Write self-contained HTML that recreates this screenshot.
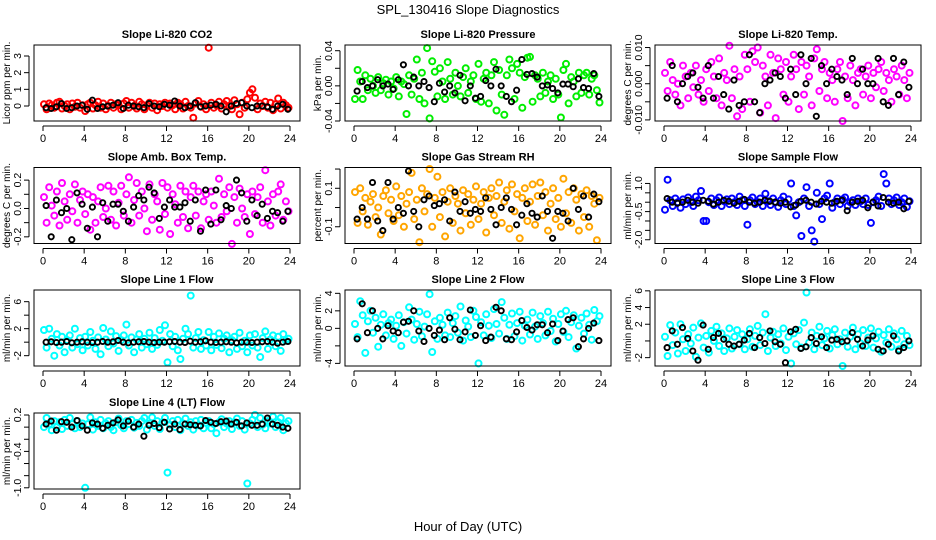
<!DOCTYPE html>
<html><head><meta charset="utf-8"><style>
body{margin:0;background:#fff}
svg{display:block;font-family:"Liberation Sans",sans-serif}
</style></head><body>
<svg id="chart" width="936" height="540" viewBox="0 0 936 540">
<text x="468" y="14" text-anchor="middle" font-size="13">SPL_130416  Slope Diagnostics</text>
<text x="468" y="531" text-anchor="middle" font-size="13">Hour of Day (UTC)</text>
</svg>
<script>
const hours=[0.1,0.35,0.6,0.85,1.1,1.35,1.6,1.85,2.1,2.35,2.6,2.85,3.1,3.35,3.6,3.85,4.1,4.35,4.6,4.85,5.1,5.35,5.6,5.85,6.1,6.35,6.6,6.85,7.1,7.35,7.6,7.85,8.1,8.35,8.6,8.85,9.1,9.35,9.6,9.85,10.1,10.35,10.6,10.85,11.1,11.35,11.6,11.85,12.1,12.35,12.6,12.85,13.1,13.35,13.6,13.85,14.1,14.35,14.6,14.85,15.1,15.35,15.6,15.85,16.1,16.35,16.6,16.85,17.1,17.35,17.6,17.85,18.1,18.35,18.6,18.85,19.1,19.35,19.6,19.85,20.1,20.35,20.6,20.85,21.1,21.35,21.6,21.85,22.1,22.35,22.6,22.85,23.1,23.35,23.6,23.85];
const blackHours=[0.3,0.8,1.3,1.8,2.3,2.8,3.3,3.8,4.3,4.8,5.3,5.8,6.3,6.8,7.3,7.8,8.3,8.8,9.3,9.8,10.3,10.8,11.3,11.8,12.3,12.8,13.3,13.8,14.3,14.8,15.3,15.8,16.3,16.8,17.3,17.8,18.3,18.8,19.3,19.8,20.3,20.8,21.3,21.8,22.3,22.8,23.3,23.8];
const xTicks=[0,4,8,12,16,20,24];

const co2=[0.1,-0.2,0.15,0.05,-0.1,0.2,0.25,-0.15,0.0,0.1,-0.2,0.15,-0.05,0.2,-0.1,0.05,-0.3,0.1,0.2,-0.15,0.05,0.25,-0.1,0.15,-0.2,0.0,0.2,-0.1,0.1,0.05,-0.2,0.15,0.3,-0.1,0.2,0.0,-0.15,0.25,0.1,-0.2,0.05,0.2,-0.1,0.15,-0.25,0.1,0.0,0.2,-0.1,0.15,0.05,-0.2,0.2,0.1,-0.15,0.25,0.0,-0.1,-0.7,0.15,0.3,-0.05,0.1,-0.2,3.5,0.2,-0.1,0.05,0.25,-0.15,0.1,0.3,0.0,-0.2,0.35,0.1,-0.5,0.2,-0.1,0.4,0.8,1.0,0.5,-0.2,0.15,0.0,0.25,-0.1,0.2,-0.25,0.1,0.45,-0.15,0.2,0.05,-0.1];
const co2Black=[-0.1,-0.15,-0.05,0.15,-0.15,-0.1,0.0,0.05,-0.2,0.35,-0.15,-0.05,0.0,0.05,0.2,-0.15,0.05,0.0,-0.05,-0.1,0.15,0.0,-0.05,0.1,0.05,0.3,0.0,-0.1,0.0,0.2,-0.05,0.0,0.05,0.1,0.0,-0.35,0.0,0.15,0.2,0.0,-0.1,0.0,0.0,-0.05,-0.2,0.0,0.1,-0.2];
const press=[-0.015,0.018,0.005,-0.015,0.012,-0.005,0.008,0.0,-0.008,0.01,-0.005,0.003,0.007,-0.01,0.005,-0.003,0.01,-0.012,0.005,0.002,-0.032,0.012,-0.01,0.008,0.03,-0.015,0.015,-0.02,0.043,-0.037,0.028,0.016,-0.012,0.02,0.005,-0.015,0.027,0.008,-0.01,0.015,0.0,-0.012,0.01,0.02,-0.008,0.005,0.012,-0.015,0.025,-0.018,0.008,0.015,-0.02,0.012,0.027,-0.028,0.018,-0.01,-0.033,0.012,0.03,0.02,-0.015,0.025,0.015,-0.025,0.01,0.032,0.033,-0.018,0.012,0.008,-0.012,0.015,-0.008,0.005,0.012,-0.015,0.008,-0.01,-0.036,0.018,0.025,-0.02,0.01,0.005,-0.012,0.015,-0.008,0.012,0.015,-0.01,0.008,0.012,-0.005,-0.019];
const pressBlack=[-0.006,0.005,-0.002,0.0,0.007,0.0,0.002,-0.004,0.007,0.024,0.0,0.01,0.0,0.005,-0.002,-0.018,0.003,-0.007,0.0,-0.008,0.012,-0.017,0.0,-0.014,-0.012,0.006,0.0,0.019,0.0,-0.012,-0.018,-0.005,0.03,0.013,0.014,0.01,0.0,0.001,-0.003,-0.008,0.002,0.002,-0.001,0.008,-0.002,-0.003,0.014,-0.012];
const temp=[0.003,-0.002,0.006,0.001,-0.003,0.0,-0.006,0.005,0.002,-0.004,0.003,-0.001,0.005,-0.003,0.001,-0.005,0.004,-0.002,0.006,0.002,-0.004,0.007,-0.006,0.003,0.001,0.0105,-0.004,0.004,-0.009,0.002,-0.007,0.008,0.004,-0.005,0.009,0.006,0.010,-0.008,0.005,0.002,-0.006,0.008,0.003,-0.0095,0.007,0.004,-0.003,0.006,-0.005,0.002,0.008,0.004,-0.007,0.006,-0.003,0.005,0.002,-0.006,0.007,0.0095,-0.002,0.004,0.006,-0.004,0.003,0.001,-0.005,0.004,0.006,-0.0103,0.002,-0.004,0.005,0.001,-0.006,0.003,0.004,-0.003,0.002,0.005,-0.004,0.003,-0.001,0.004,0.006,-0.002,0.003,0.001,-0.005,0.004,0.002,-0.003,0.005,0.001,-0.004,0.003];
const tempBlack=[-0.004,0.005,-0.005,0.0,0.002,0.003,-0.001,-0.004,0.005,-0.004,0.002,-0.003,-0.007,0.001,-0.006,-0.005,0.008,-0.005,-0.008,0.0,0.001,0.003,0.002,-0.004,0.004,-0.003,0.008,0.0,0.007,-0.009,0.005,0.0,0.004,0.002,0.001,-0.003,0.007,0.0,0.004,0.0,0.0,0.007,-0.005,-0.006,0.007,-0.003,0.006,-0.001];
const amb=[0.08,-0.1,0.15,0.02,-0.05,0.12,-0.12,0.18,0.05,-0.08,0.1,-0.02,0.17,-0.1,0.06,0.12,-0.04,0.1,-0.15,0.08,-0.1,0.05,0.15,-0.06,0.0,0.16,-0.08,0.12,-0.12,0.04,0.16,-0.05,0.1,0.22,-0.1,0.06,0.18,-0.05,0.12,0.0,-0.16,0.17,-0.08,0.1,0.05,-0.15,0.18,-0.04,0.15,-0.18,0.1,0.03,-0.1,0.16,-0.06,0.12,-0.14,0.08,0.16,-0.05,0.12,-0.14,0.05,0.1,-0.08,0.12,0.02,-0.1,0.21,-0.06,0.1,-0.02,0.15,-0.25,0.08,-0.1,0.14,0.0,-0.06,0.1,-0.18,0.12,-0.04,0.08,0.15,-0.1,0.27,0.05,-0.12,0.1,-0.05,0.12,0.17,-0.08,0.05,-0.02];
const ambBlack=[0.02,-0.2,0.06,-0.03,0.0,-0.22,0.11,0.03,-0.14,0.01,-0.2,0.04,-0.09,0.03,0.03,-0.02,-0.09,0.01,0.09,0.06,0.15,0.11,-0.07,0.01,0.06,0.01,0.01,0.04,-0.09,0.06,-0.16,0.13,-0.11,0.13,-0.08,0.02,0.0,0.2,0.11,-0.09,0.06,-0.05,0.03,-0.07,-0.02,-0.03,-0.09,-0.02];
const rh=[0.08,-0.08,0.1,-0.02,0.05,-0.09,0.03,0.07,-0.05,0.0,-0.14,0.06,0.09,-0.03,0.04,-0.07,0.11,-0.04,0.06,-0.1,0.02,0.08,0.18,-0.06,0.04,-0.18,0.1,-0.02,0.07,0.2,-0.1,0.05,0.16,-0.05,0.08,-0.15,0.03,0.1,-0.08,0.06,0.02,-0.12,0.09,-0.03,0.07,-0.09,0.04,0.11,-0.06,0.02,0.08,-0.13,0.05,0.1,-0.04,0.06,0.13,-0.08,0.03,0.09,-0.11,0.12,-0.02,0.07,-0.16,0.05,0.1,-0.07,0.03,0.12,-0.09,0.06,0.13,-0.04,0.08,-0.12,0.02,0.1,-0.06,0.05,-0.1,0.15,-0.03,0.08,-0.08,0.1,0.04,-0.12,0.07,-0.05,0.09,-0.1,0.06,0.02,-0.17,0.05];
const rhBlack=[-0.06,0.0,-0.06,0.13,-0.07,-0.12,0.13,-0.06,0.0,-0.03,0.19,-0.02,-0.1,0.04,0.06,0.01,0.02,0.04,-0.07,0.08,-0.02,0.03,-0.03,-0.01,-0.02,0.05,-0.01,-0.09,0.0,0.05,-0.01,-0.09,-0.04,0.02,-0.03,-0.05,0.06,-0.02,-0.16,-0.02,-0.03,-0.07,0.1,-0.01,0.06,-0.05,0.07,0.03];
const sample=[-0.4,1.2,0.1,-0.2,0.2,0.0,-0.3,0.15,-0.1,0.25,0.0,-0.2,0.3,0.1,0.6,-1.0,-1.0,0.0,0.2,-0.15,0.1,0.25,-0.2,0.05,0.15,-0.1,0.2,0.0,-0.15,0.3,0.1,-0.2,-1.2,0.1,0.25,-0.1,0.0,0.2,-0.2,0.45,0.05,-0.15,0.2,0.0,-0.25,0.1,0.3,-0.1,0.15,1.0,-0.2,-0.7,0.0,-1.8,0.2,0.8,-0.2,-1.5,-2.1,0.5,-0.1,-0.9,0.2,0.35,1.0,-0.3,0.0,0.2,-0.1,0.15,0.25,-0.2,0.0,0.1,-0.15,0.2,0.05,-0.1,0.2,-0.15,-1.1,0.0,0.1,0.3,-0.2,1.5,1.0,0.2,-0.1,0.1,0.25,-0.15,0.0,0.2,-0.25,0.05];
const sampleBlack=[0.2,0.0,-0.05,0.0,0.1,0.0,-0.05,0.1,0.05,-0.1,0.0,0.1,0.05,-0.05,0.05,0.15,0.0,-0.05,0.0,0.1,0.05,0.0,-0.05,0.0,-0.25,-0.15,0.05,0.1,0.0,-0.1,0.05,0.0,-0.05,0.05,0.1,-0.45,0.0,0.05,0.1,-0.3,0.0,-0.2,0.25,0.0,-0.05,0.0,-0.35,0.05];
const line1=[1.8,-0.8,2.0,0.5,-2.0,1.2,-0.5,0.8,-1.5,0.3,1.0,-0.8,2.0,-0.3,0.6,-1.2,0.8,-0.5,1.5,0.2,-1.0,0.7,-1.8,2.1,0.4,-0.6,1.6,-0.2,0.9,-1.3,0.3,1.0,2.6,-0.5,0.7,-1.5,0.4,1.2,-0.8,0.5,-0.3,1.4,-1.0,0.6,-0.4,1.8,0.2,2.5,-3.0,1.2,-0.6,0.8,-1.2,-2.5,0.5,2.0,1.2,6.9,-0.8,0.6,1.5,-1.0,0.3,-0.5,1.5,-1.2,0.8,-0.4,1.3,-0.9,0.5,1.0,-1.5,0.3,0.8,-1.0,1.4,-0.6,0.2,-1.5,1.0,-0.5,1.2,-0.8,-2.2,0.6,1.6,-1.0,0.4,1.0,-0.6,0.8,-1.3,1.2,0.2,0.5];
const line1Black=[0.0,0.05,-0.05,0.0,0.1,-0.1,0.0,0.05,0.0,-0.05,0.0,0.1,0.0,0.05,0.25,0.0,-0.1,0.0,0.05,0.1,0.0,-0.05,0.0,0.0,0.05,0.1,0.0,-0.05,0.15,0.0,0.05,0.2,0.0,-0.05,0.0,0.05,0.0,-0.1,0.0,0.0,-0.05,0.0,0.05,0.1,0.0,-0.15,0.0,0.1];
const line2=[0.5,-1.0,3.1,1.5,-2.8,0.8,2.0,-0.5,1.2,-2.1,0.4,1.6,-0.8,0.6,1.0,-1.2,0.3,1.5,-2.0,0.7,-0.6,2.4,1.0,-1.3,0.5,1.9,-0.9,0.2,1.6,3.9,-2.7,0.8,-1.2,1.2,0.4,-0.8,1.8,-1.0,0.6,1.4,-0.5,2.5,-1.4,0.9,0.2,-1.0,2.0,1.3,-4.0,0.7,-0.8,1.6,0.3,-1.1,2.2,0.5,-0.6,3.0,1.2,-1.2,0.4,1.7,-0.9,0.6,1.9,-1.4,0.3,1.0,-0.7,1.8,0.2,-1.2,1.4,0.6,-0.8,1.9,-0.3,1.1,-1.5,0.5,1.6,-0.4,2.0,-1.0,0.7,1.5,-2.3,0.3,1.2,-0.6,1.7,0.4,-1.3,2.1,0.8,1.4];
const line2Black=[-1.2,2.8,-0.5,2.0,0.0,-1.2,0.3,-0.3,-0.5,0.7,0.8,2.0,-0.3,-1.5,0.0,-0.8,-0.2,-1.3,1.2,-0.1,-1.3,-0.4,2.1,-0.8,0.3,-1.4,-1.0,2.4,2.0,-1.2,-1.3,-0.4,0.9,0.1,-0.2,0.4,0.4,-0.5,0.5,-1.4,-0.3,1.0,1.2,-2.1,-1.2,0.0,0.6,-1.4];
const line3=[0.5,-1.8,1.9,-0.5,1.0,-1.5,2.0,0.2,-1.2,0.8,-0.3,1.6,-1.9,0.4,2.1,-0.8,0.6,-1.4,1.2,0.0,1.7,-0.6,0.9,-1.2,0.3,1.5,-0.9,0.5,1.3,-0.4,0.8,-1.0,0.2,1.4,-0.7,0.6,1.8,-0.5,1.0,3.2,-1.2,0.4,1.1,-0.6,0.8,-0.3,1.5,-1.1,0.5,-2.7,0.9,-0.4,1.3,-0.8,2.2,5.8,-0.2,1.0,-1.0,0.6,1.7,-0.5,0.3,1.2,-0.9,0.7,1.4,-0.4,0.2,-3.0,1.0,-0.7,0.5,1.6,-1.0,0.8,-0.3,1.3,-0.6,0.4,1.5,-0.8,0.3,1.1,-1.3,0.7,-0.2,1.4,-0.7,0.9,0.2,-1.0,1.2,-0.4,0.6,-0.5];
const line3Black=[-0.8,1.2,-0.4,1.6,0.3,-1.2,-2.3,1.9,-1.0,0.4,0.9,0.2,-0.4,-0.6,-0.4,0.1,0.9,-0.8,0.4,-0.3,1.2,-0.1,-0.4,-2.6,1.1,1.4,-0.9,-0.7,0.4,-0.3,0.5,-0.8,0.1,0.2,-0.1,0.0,1.0,0.2,-0.6,0.1,0.6,-1.0,-1.2,-0.4,0.6,-1.2,-0.8,0.0];
const line4=[0.0,0.15,0.05,-0.05,0.1,0.0,0.08,-0.03,0.12,0.02,0.15,0.05,-0.02,0.1,0.0,0.06,-1.0,0.05,0.16,-0.04,0.08,0.02,0.12,-0.02,0.06,0.1,0.0,-0.05,0.08,0.14,0.03,-0.02,0.1,0.05,0.12,-0.01,0.07,0.02,0.1,0.15,-0.04,0.06,0.16,0.02,0.1,-0.03,0.08,0.15,-0.75,0.04,0.1,0.0,0.12,-0.05,0.06,0.14,0.02,0.08,-0.04,0.1,0.03,0.12,-0.02,0.07,0.1,-0.02,0.05,-0.1,0.08,0.13,0.0,0.06,0.1,-0.03,0.08,0.14,0.02,0.1,-0.04,-0.93,0.06,0.12,0.2,0.0,0.15,0.04,-0.02,0.1,0.06,0.17,0.0,0.08,0.15,-0.05,0.06,0.1];
const line4Black=[0.05,0.1,-0.05,0.09,0.08,0.0,0.11,0.02,-0.05,0.07,0.05,-0.02,0.03,0.07,0.12,0.02,0.1,0.0,0.05,-0.15,0.03,0.06,-0.01,0.08,-0.03,0.05,-0.04,0.05,0.04,0.03,0.02,0.11,0.08,0.06,0.09,0.1,0.05,0.08,0.02,0.07,0.03,0.03,0.05,0.15,0.05,0.03,0.0,-0.02];

const panels=[
 {id:'co2',title:'Slope Li-820 CO2',yl:'Licor ppm per min.',min:-0.9,max:3.66,ticks:[0,1,2,3],labels:['0','1','2','3'],color:'#ff0000',v:co2,b:co2Black},
 {id:'pressure',title:'Slope Li-820 Pressure',yl:'kPa per min.',min:-0.04,max:0.0465,ticks:[-0.04,-0.02,0,0.02,0.04],labels:['-0.04','','0.00','','0.04'],color:'#00ee00',v:press,b:pressBlack},
 {id:'temp',title:'Slope Li-820 Temp.',yl:'degrees C per min.',min:-0.0103,max:0.0107,ticks:[-0.01,-0.005,0,0.005,0.01],labels:['-0.010','','0.000','','0.010'],color:'#ff00ff',v:temp,b:tempBlack},
 {id:'amb-box-temp',title:'Slope Amb. Box Temp.',yl:'degrees C per min.',min:-0.247,max:0.289,ticks:[-0.2,-0.1,0,0.1,0.2],labels:['-0.2','','0.0','','0.2'],color:'#ff00ff',v:amb,b:ambBlack},
 {id:'gas-stream-rh',title:'Slope Gas Stream RH',yl:'percent per min.',min:-0.187,max:0.208,ticks:[-0.1,0,0.1,0.2],labels:['-0.1','','0.1',''],color:'#ffa500',v:rh,b:rhBlack},
 {id:'sample-flow',title:'Slope Sample Flow',yl:'ml/min per min.',min:-2.2,max:1.85,ticks:[-2,-1.5,-1,-0.5,0,0.5,1],labels:['-2.0','','','-0.5','','','1.0'],color:'#0000ff',v:sample,b:sampleBlack},
 {id:'line1-flow',title:'Slope Line 1 Flow',yl:'ml/min per min.',min:-3.53,max:7.73,ticks:[-2,0,2,4,6],labels:['-2','','2','','6'],color:'#00ffff',v:line1,b:line1Black},
 {id:'line2-flow',title:'Slope Line 2 Flow',yl:'ml/min per min.',min:-4.3,max:4.38,ticks:[-4,-2,0,2,4],labels:['-4','','0','2','4'],color:'#00ffff',v:line2,b:line2Black},
 {id:'line3-flow',title:'Slope Line 3 Flow',yl:'ml/min per min.',min:-3.0,max:6.1,ticks:[-2,0,2,4,6],labels:['-2','','2','4','6'],color:'#00ffff',v:line3,b:line3Black},
 {id:'line4-flow',title:'Slope Line 4 (LT) Flow',yl:'ml/min per min.',min:-1.02,max:0.233,ticks:[-1,-0.8,-0.6,-0.4,-0.2,0,0.2],labels:['-1.0','','','-0.4','','','0.2'],color:'#00ffff',v:line4,b:line4Black}
];
const NS='http://www.w3.org/2000/svg';
const svg=document.getElementById('chart');
function mk(tag,attrs,parent){const e=document.createElementNS(NS,tag);for(const k in attrs)e.setAttribute(k,attrs[k]);parent.appendChild(e);return e;}
const colX=[34,345,655], rowY=[45,167.5,290,413], W=266, H=76;
panels.forEach((p,i)=>{
  const bx=colX[i%3], by=rowY[Math.floor(i/3)];
  const x0=bx+9, x24=bx+256;
  const xs=h=>x0+(h/24)*(x24-x0);
  const ys=v=>by+H-(v-p.min)/(p.max-p.min)*H;
  const g=mk('g',{},svg);
  
  
  const t=mk('text',{x:bx+W/2,y:by-7,'text-anchor':'middle','font-size':11,'font-weight':'bold'},g);
  t.textContent=p.title;
  
  
  const yl=mk('text',{x:0,y:0,transform:`translate(${bx-24},${by+H/2}) rotate(-90)`,'text-anchor':'middle','font-size':10},g);
  yl.textContent=p.yl;
  
  
  const pg=mk('g',{fill:'none',stroke:p.color,'stroke-width':2},g);
  
  
  const n=Math.min(hours.length,p.v.length);
  for(let k=0;k<n;k++){
    const c=mk('circle',{cx:xs(hours[k]).toFixed(1),cy:ys(p.v[k]).toFixed(1),r:3},pg);
    
    
  }
  const bg=mk('g',{fill:'none',stroke:'#000','stroke-width':1.9},g);
  
  
  const m=Math.min(blackHours.length,p.b.length);
  for(let k=0;k<m;k++){
    const c=mk('circle',{cx:xs(blackHours[k]).toFixed(1),cy:ys(p.b[k]).toFixed(1),r:2.6},bg);
    
    
  }
  const box=mk('rect',{x:bx,y:by,width:W,height:H,fill:'none',stroke:'#000','stroke-width':1},g);
  
  
  const xa=mk('g',{stroke:'#000','stroke-width':1},g);
  
  
  mk('line',{x1:xs(0),x2:xs(24),y1:by+H+5,y2:by+H+5},xa);
  xTicks.forEach(h=>{
    mk('line',{x1:xs(h),x2:xs(h),y1:by+H+5,y2:by+H+10},xa);
    const tl=mk('text',{x:xs(h),y:by+H+21,'text-anchor':'middle','font-size':11,stroke:'none'},xa);
    tl.textContent=h;
    
    
  });
  const ya=mk('g',{stroke:'#000','stroke-width':1},g);
  
  
  mk('line',{x1:bx-5,x2:bx-5,y1:ys(p.ticks[0]),y2:ys(p.ticks[p.ticks.length-1])},ya);
  p.ticks.forEach((v,k)=>{
    const y=ys(v);
    mk('line',{x1:bx-10,x2:bx-5,y1:y,y2:y},ya);
    if(p.labels[k]){
      const tl=mk('text',{x:0,y:0,transform:`translate(${bx-13},${y}) rotate(-90)`,'text-anchor':'middle','font-size':10.5,stroke:'none'},ya);
      tl.textContent=p.labels[k];
      
      
    }
  });
});
</script>
</body></html>
